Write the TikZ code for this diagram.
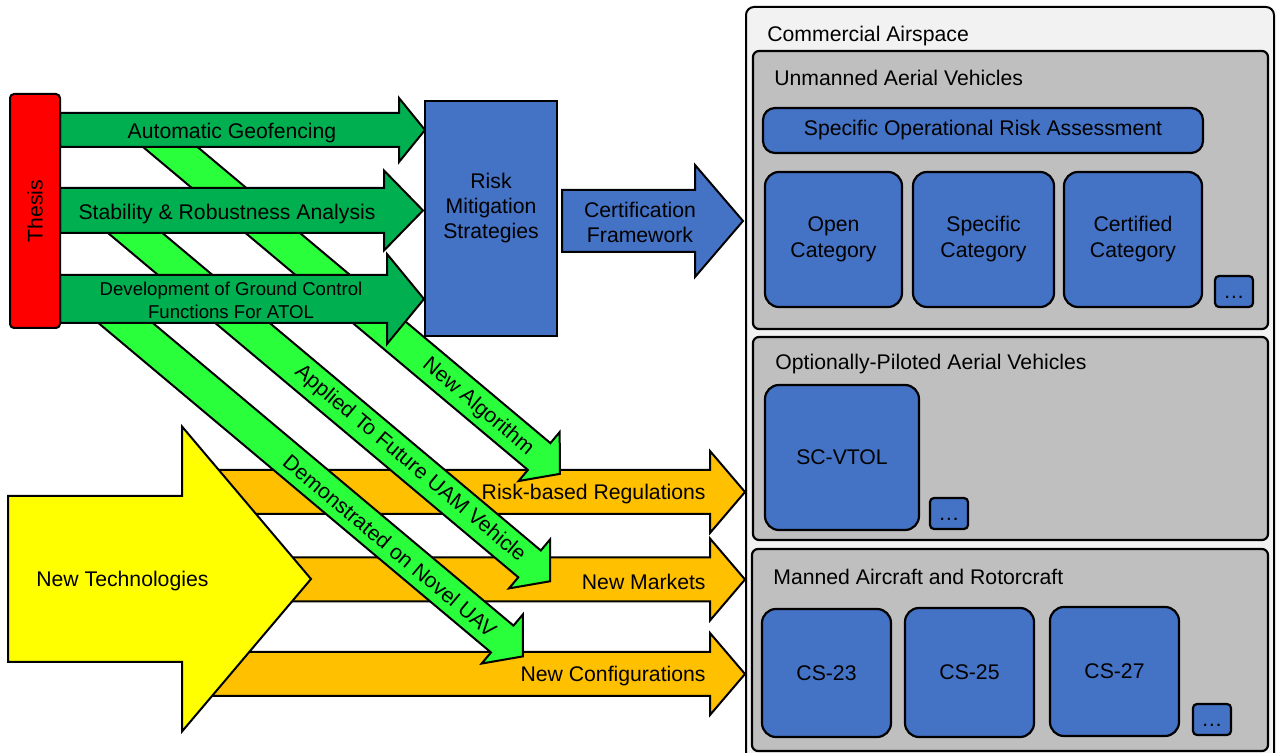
\documentclass[tikz,border=0pt]{standalone}
\usepackage{fontspec}
\setmainfont{Liberation Sans}
\usetikzlibrary{positioning}

\definecolor{thesisred}{HTML}{FF0000}
\definecolor{darkgr}{HTML}{00B050}
\definecolor{lightgr}{RGB}{41,255,59}
\definecolor{regorange}{HTML}{FFC000}
\definecolor{techyellow}{HTML}{FFFF00}
\definecolor{boxblue}{HTML}{4472C4}
\definecolor{panelgray}{HTML}{BFBFBF}
\definecolor{airgray}{HTML}{F2F2F2}

% block arrow from the tail centre: length, head length, half shaft, half head
\newcommand{\blockarrow}[4]{++(0,-#3) -- ++(#1-#2,0) -- ++(0,#3-#4) -- ++(#2,#4) -- ++(-#2,#4) -- ++(0,#3-#4) -- ++(#2-#1,0) -- cycle}

\begin{document}
\begin{tikzpicture}[x=0.5pt,y=-0.5pt,
  font=\fontsize{10.6}{12.5}\selectfont,
  barrow/.style={draw=black, line width=1pt},
  lbl/.style={inner sep=0pt, align=center},
  txt/.style={lbl, yshift=-1pt},
  bluebox/.style={draw=black, line width=1.1pt, fill=boxblue, rounded corners=7pt,
    align=center, inner sep=0pt, font=\fontsize{10.6}{13}\selectfont},
  panel/.style={draw=black, line width=1.1pt, fill=panelgray, rounded corners=3pt, inner sep=0pt},
  dotbox/.style={bluebox, rounded corners=2pt, minimum width=19pt, minimum height=15.5pt,
    text height=7pt, text depth=0pt}]
  \useasboundingbox (0,0) rectangle (1276,753);
  \clip (0,0) rectangle (1276,753);

  % Outcomes
  \foreach \y/\name/\txt in {492/regs/Risk-based Regulations, 579.5/mkts/New Markets, 674/cfgs/New Configurations} {
    \draw[barrow, fill=regorange] (200,\y) \blockarrow{545}{35}{22}{41};
    \node[txt, anchor=east] (\name) at (706,\y) {\txt};
  }

  % New Technologies
  \draw[barrow, fill=techyellow] (8,579) \blockarrow{303}{129}{83}{152.5};
  \node[txt, anchor=west] (tech) at (36,579) {New Technologies};

  % Diagonal arrows
  \foreach \x/\y/\len in {150/130/535, 109/211/576, 97/299/556}
    \draw[barrow, fill=lightgr, shift={(\x,\y)}, rotate=-40] (0,0) \blockarrow{\len}{27}{17.5}{32};
  \node[lbl, rotate=-40] (algo) at (478,407) {New Algorithm};
  \node[lbl, rotate=-40] (uam) at (410,464) {Applied To Future UAM Vehicle};
  \node[lbl, rotate=-40] (uav) at (390,546) {Demonstrated on Novel UAV};

  % Thesis contributions
  \draw[barrow, fill=darkgr] (60,130) \blockarrow{365}{26}{17}{32};
  \draw[barrow, fill=darkgr] (60,210.5) \blockarrow{363}{39}{22.5}{40};
  \draw[barrow, fill=darkgr] (60,299) \blockarrow{364}{37}{24}{45};
  \node[txt] (geo) at (232,131) {Automatic Geofencing};
  \node[txt] (stab) at (227,212) {Stability \& Robustness Analysis};
  \node[lbl, font=\fontsize{9.3}{11.5}\selectfont] (gcf) at (231,300) {Development of Ground Control\\Functions For ATOL};

  \node[draw=black, line width=1pt, fill=thesisred, rounded corners=2pt, rotate=90,
    minimum width=117pt, minimum height=25pt, inner sep=0pt] (thesis) at (35,211) {Thesis};

  % Risk mitigation
  \node[draw=black, line width=1pt, fill=boxblue, minimum width=66pt, minimum height=117.5pt] (risk) at (491,218.5) {};
  \node[lbl] (risktxt) at (491,208) {Risk\\Mitigation\\Strategies};
  \draw[barrow, fill=boxblue] (562,221) \blockarrow{181}{48}{31}{56};
  \node[lbl] (cert) at (640,222) {Certification\\Framework};

  % Commercial airspace
  \draw[line width=1pt, fill=airgray, rounded corners=4pt] (746,7) rectangle (1274,770);
  \node[txt, anchor=west] (air) at (767,34) {Commercial Airspace};

  \node[panel, minimum width=257.5pt, minimum height=139pt] (uas) at (1010.5,190) {};
  \node[txt, anchor=west] (uastxt) at (774,76) {Unmanned Aerial Vehicles};
  \node[bluebox, rounded corners=6pt, minimum width=220pt, minimum height=22.5pt] (sora) at (983,130.5) {Specific Operational Risk Assessment};
  \node[bluebox, minimum width=68.5pt, minimum height=67.5pt] (open) at (833.5,239.5) {Open\\Category};
  \node[bluebox, minimum width=70.5pt, minimum height=67.5pt, right=4.4pt of open] (spec) {Specific\\Category};
  \node[bluebox, minimum width=69pt, minimum height=67.5pt, right=3.9pt of spec] (certcat) {Certified\\Category};
  \node[dotbox, anchor=south west] (dotsa) at ([xshift=5.4pt]certcat.south east) {\dots};

  \node[panel, minimum width=257.5pt, minimum height=101.5pt] (opav) at (1010.5,438.5) {};
  \node[txt, anchor=west] (opavtxt) at (775,362) {Optionally-Piloted Aerial Vehicles};
  \node[bluebox, minimum width=77pt, minimum height=72.5pt] (vtol) at (842,457.5) {SC-VTOL};
  \node[dotbox, anchor=south west] (dotsb) at ([xshift=4.4pt,yshift=0.5pt]vtol.south east) {\dots};

  \node[panel, minimum width=258pt, minimum height=101pt] (manned) at (1010,650) {};
  \node[txt, anchor=west] (mannedtxt) at (773,575) {Manned Aircraft and Rotorcraft};
  \node[bluebox, minimum width=64.5pt, minimum height=64pt] (cs23) at (826.5,673) {CS-23};
  \node[bluebox, minimum width=64.5pt, minimum height=64.5pt] (cs25) at (969.5,672.5) {CS-25};
  \node[bluebox, minimum width=64.5pt, minimum height=64.5pt] (cs27) at (1114.5,671.5) {CS-27};
  \node[dotbox, anchor=south west] (dotsc) at ([xshift=5.9pt,yshift=0.5pt]cs27.south east) {\dots};
\end{tikzpicture}
\end{document}
